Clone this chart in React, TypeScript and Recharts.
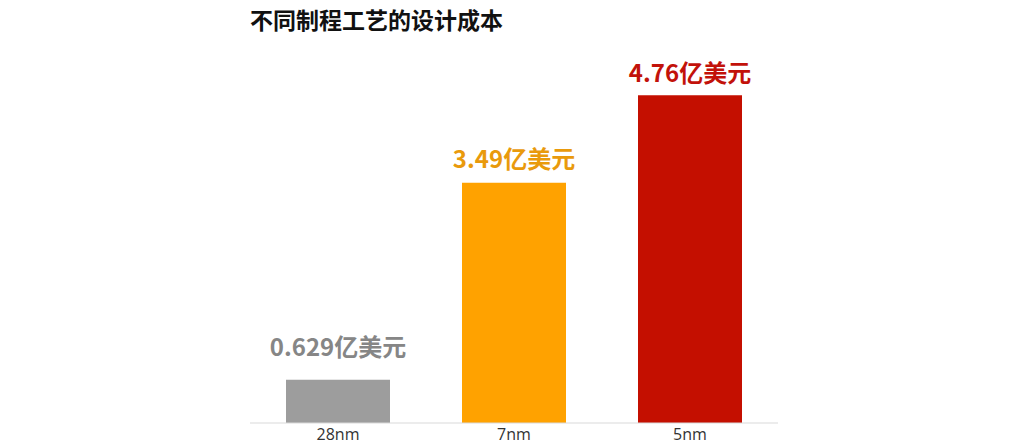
import React from 'react';
import { BarChart, Bar, XAxis, YAxis, Cell, LabelList } from 'recharts';

const nodes = ['28nm', '7nm', '5nm'];
const costs = [0.629, 3.49, 4.76];
const unit = '亿美元';

const barColors = ['#9d9d9d', '#ffa200', '#c40f00'];
const labelColors = ['#868686', '#e99a0c', '#c2120a'];
const labelGaps = [24, 15, 13];

const data = nodes.map((node, i) => ({ node, cost: costs[i] }));

const FONT = '"Noto Sans CJK SC", "Noto Sans", sans-serif';

const renderLabel = (props: any) => {
  const { x, y, width, value, index } = props;
  return (
    <text
      x={x + width / 2}
      y={y - labelGaps[index]}
      textAnchor="middle"
      fill={labelColors[index]}
      fontFamily={FONT}
      fontWeight={700}
      fontSize={24}
    >
      {value}
      {unit}
    </text>
  );
};

export default function App() {
  return (
    <div style={{ position: 'absolute', left: 0, top: 0, width: 1024, height: 446, background: '#fff' }}>
      <div
        style={{
          position: 'absolute',
          left: 250,
          top: 4,
          fontFamily: FONT,
          fontWeight: 700,
          fontSize: 23,
          color: '#111',
          lineHeight: '30px',
        }}
      >
        不同制程工艺的设计成本
      </div>
      <BarChart
        width={1024}
        height={446}
        data={data}
        margin={{ top: 10, right: 246, bottom: 0, left: 250 }}
        barCategoryGap={36}
      >
        <XAxis
          dataKey="node"
          height={23}
          axisLine={{ stroke: '#d9d9d9' }}
          tickLine={false}
          tick={{ fill: '#333', fontSize: 16, fontFamily: '"Open Sans", sans-serif' }}
          tickMargin={0}
        />
        <YAxis hide domain={[0, 6]} />
        <Bar dataKey="cost" isAnimationActive={false}>
          {data.map((d, i) => (
            <Cell key={d.node} fill={barColors[i]} />
          ))}
          <LabelList dataKey="cost" content={renderLabel} />
        </Bar>
      </BarChart>
    </div>
  );
}
